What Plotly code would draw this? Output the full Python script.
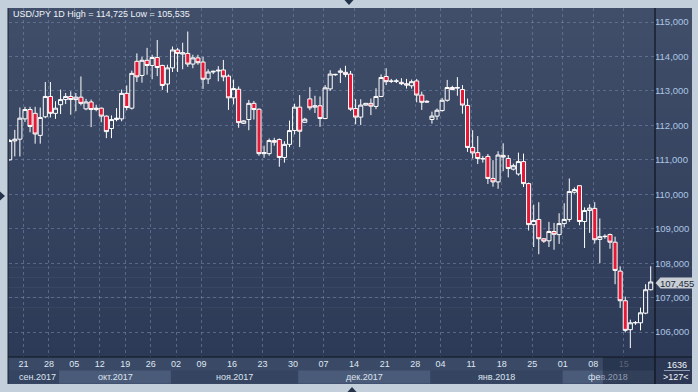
import plotly.graph_objects as go

# ---------------- data ----------------
opens = [111.00, 111.55, 111.60, 112.19, 112.46, 112.35, 111.71, 112.25, 112.84, 112.35,
         112.60, 112.75, 112.84, 112.75, 112.82, 112.48, 112.68, 112.46, 112.50, 112.27,
         111.91, 112.17, 112.19, 112.93, 112.50, 113.86, 113.45, 113.89, 113.74, 113.97,
         113.74, 113.20, 113.67, 114.19, 114.07, 114.09, 113.78, 113.96, 113.84, 113.35,
         113.55, 113.58, 113.61,
         113.43, 112.80, 113.05, 112.06, 112.17, 112.64, 112.47, 111.18, 111.18, 111.56,
         111.59, 111.07, 111.45, 111.85, 112.53, 112.09, 112.77, 112.53, 112.57, 112.20,
         113.06, 113.47, 113.54, 113.54, 113.49, 112.49, 112.24, 112.59, 112.64, 112.55,
         112.84, 113.42, 113.28, 113.28, 113.25, 113.21, 113.15, 113.29, 112.88, 112.70,
         112.17, 112.27, 112.43,
         112.73, 113.10, 113.08, 113.04, 112.58, 111.36, 111.21, 111.04, 111.10, 110.46,
         110.36, 111.13, 111.04, 110.73, 110.59, 110.95, 110.31, 109.12, 109.27, 108.71,
         108.65, 108.92, 108.83, 109.15, 109.27, 110.06, 110.25, 109.21, 109.53, 109.59,
         108.69, 108.77, 108.83, 108.61, 107.77, 106.91, 106.07, 106.27, 106.27, 106.55,
         107.23]
highs = [111.60, 111.87, 112.52, 112.54, 112.54, 112.54, 112.52, 113.26, 113.26, 112.70,
         113.04, 112.94, 112.99, 112.94, 113.42, 112.77, 112.75, 112.60, 112.52, 112.29,
         112.29, 112.50, 113.04, 113.16, 113.59, 114.09, 113.99, 114.25, 114.05, 114.48,
         113.76, 113.76, 114.29, 114.25, 114.40, 114.725, 114.05, 114.05, 113.99, 113.63,
         113.59, 113.72, 113.90,
         113.48, 113.33, 113.13, 112.15, 112.74, 112.71, 112.49, 111.41, 111.62, 111.64,
         111.62, 111.54, 112.14, 112.63, 112.88, 112.22, 113.11, 112.86, 112.84, 113.17,
         113.60, 113.50, 113.66, 113.73, 113.58, 112.76, 112.76, 112.64, 112.78, 113.08,
         113.48, 113.66, 113.35, 113.35, 113.37, 113.35, 113.33, 113.35, 112.98, 112.73,
         112.40, 112.49, 112.80,
         113.32, 113.15, 113.40, 113.17, 112.78, 111.86, 111.69, 111.11, 111.17, 110.99,
         111.25, 111.48, 111.14, 110.89, 111.21, 111.18, 110.34, 109.70, 109.77, 108.72,
         109.20, 109.17, 109.45, 109.74, 110.46, 110.20, 110.25, 109.62, 109.71, 109.77,
         109.30, 108.84, 108.86, 108.77, 107.91, 107.03, 106.36, 106.32, 106.71, 107.39,
         107.91]
lows = [110.98, 111.10, 111.10, 112.10, 111.80, 111.47, 111.47, 112.21, 112.23, 112.19,
        112.33, 112.62, 112.31, 112.41, 112.58, 112.44, 111.95, 112.41, 112.09, 111.63,
        111.63, 112.12, 112.12, 112.44, 112.46, 113.26, 113.24, 113.47, 113.34, 113.43,
        113.03, 112.95, 113.55, 113.55, 113.63, 113.70, 113.66, 113.76, 113.06, 113.20,
        113.49, 113.28, 113.28,
        112.45, 112.61, 111.93, 112.04, 111.86, 112.17, 111.12, 111.06, 111.12, 111.41,
        110.80, 110.92, 111.37, 111.74, 111.37, 112.07, 112.44, 112.36, 111.96, 112.18,
        113.00, 113.44, 113.23, 113.40, 112.42, 112.03, 112.01, 112.57, 112.30, 112.47,
        112.82, 113.17, 113.23, 113.23, 113.17, 113.07, 113.07, 112.67, 112.45, 112.66,
        112.05, 112.16, 112.40,
        112.69, 113.02, 112.86, 112.34, 111.23, 111.04, 110.88, 110.92, 110.30, 110.22,
        110.16, 110.67, 110.49, 110.69, 110.54, 110.21, 108.95, 108.47, 108.26, 108.59,
        108.47, 108.39, 108.56, 109.04, 109.20, 110.02, 109.10, 108.44, 108.88, 108.57,
        108.00, 108.71, 108.42, 107.39, 106.70, 105.99, 105.535, 106.21, 106.05, 106.52,
        107.21]
closes = [111.56, 111.60, 112.21, 112.46, 111.97, 111.75, 112.23, 112.84, 112.35, 112.50,
          112.75, 112.84, 112.75, 112.82, 112.64, 112.68, 112.46, 112.50, 112.27, 111.82,
          112.17, 112.21, 112.93, 112.52, 113.51, 113.41, 113.89, 113.74, 113.97, 113.68,
          113.16, 113.67, 114.19, 114.09, 114.11, 113.78, 113.96, 113.82, 113.34, 113.55,
          113.57, 113.60, 113.41,
          112.80, 113.07, 112.08, 112.13, 112.64, 112.46, 111.18, 111.21, 111.56, 111.51,
          111.07, 111.45, 111.85, 112.53, 111.83, 112.18, 112.51, 112.57, 112.20, 113.09,
          113.49, 113.48, 113.58, 113.48, 112.47, 112.24, 112.59, 112.64, 112.56, 112.84,
          113.39, 113.27, 113.285, 113.29, 113.21, 113.17, 113.27, 112.88, 112.67, 112.68,
          112.27, 112.44, 112.73,
          113.10, 113.04, 113.10, 112.59, 111.36, 111.20, 111.04, 111.03, 110.46, 110.36,
          111.14, 111.08, 110.75, 110.83, 110.95, 110.31, 109.12, 109.24, 108.71, 108.64,
          108.92, 108.84, 109.15, 109.27, 110.08, 110.14, 109.21, 109.53, 109.60, 108.68,
          108.77, 108.78, 108.61, 107.79, 106.91, 106.05, 106.27, 106.275, 106.56, 107.23,
          107.455]
bar_index = list(range(len(opens)))

price_ticks = [106, 107, 108, 109, 110, 111, 112, 113, 114, 115]
price_tick_labels = ["106,000", "107,000", "108,000", "109,000", "110,000",
                     "111,000", "112,000", "113,000", "114,000", "115,000"]

day_tick_bars = [3, 8, 13, 18, 23, 28, 33, 38, 44, 50, 56, 62, 68, 74, 80, 85,
                 91, 97, 103, 109, 115, 121]
day_tick_labels = ["21", "28", "05", "12", "19", "26", "02", "09", "16", "23", "30",
                   "07", "14", "21", "28", "04", "11", "18", "25", "01", "08", "15"]

month_labels = ["сен.2017", "окт.2017", "ноя.2017", "дек.2017", "янв.2018", "фев.2018"]
month_first_bar = [0, 10, 32, 57, 83, 109]

title_text = "USD/JPY 1D High = 114,725 Low = 105,535"
last_price_label = "107,455"
count_labels = ["1636", ">127<"]

# ---------------- geometry helpers (pixel -> paper) ----------------
W, H = 698, 392
PL, PR, PT, PB = 9, 654, 8, 357
XR = [-0.14, 126.65]
YR = [105.277, 115.408]


def px(x):
    return (x - PL) / (PR - PL)


def py(y):
    return (PB - y) / (PB - PT)


def bx(b):  # bar coordinate -> paper x
    return (b - XR[0]) / (XR[1] - XR[0])


shapes = []

# gradient background (plot + y axis area)
top_c = (64, 78, 106)
bot_c = (45, 58, 87)
N = 35
for i in range(N):
    y0 = PT + (PB - PT) * i / N
    y1 = PT + (PB - PT) * (i + 1) / N + 0.6
    t = (i + 0.5) / N
    col = tuple(int(round(top_c[k] + (bot_c[k] - top_c[k]) * t)) for k in range(3))
    shapes.append(dict(type="rect", xref="paper", yref="paper", layer="below",
                       x0=px(8), x1=px(692), y0=py(y0), y1=py(y1),
                       line=dict(width=0), fillcolor="rgb(%d,%d,%d)" % col))

# x axis strip
shapes.append(dict(type="rect", xref="paper", yref="paper", layer="below",
                   x0=px(8), x1=px(692), y0=py(357), y1=py(384),
                   line=dict(width=0), fillcolor="#3a4966"))
# month boxes
month_bounds = [b - 0.3 for b in month_first_bar] + [XR[1]]
month_fill = ["#354461", "#4a5a79"]
for i in range(len(month_labels)):
    x0 = px(8) if i == 0 else bx(month_bounds[i])
    x1 = bx(month_bounds[i + 1])
    shapes.append(dict(type="rect", xref="paper", yref="paper", layer="below",
                       x0=x0, x1=x1, y0=py(370.5), y1=py(383.5),
                       line=dict(width=0), fillcolor=month_fill[i % 2]))
# bottom-right counter box
shapes.append(dict(type="rect", xref="paper", yref="paper", layer="below",
                   x0=px(655), x1=px(692), y0=py(357), y1=py(384),
                   line=dict(width=0), fillcolor="#2c3853"))
shapes.append(dict(type="line", xref="paper", yref="paper", layer="above",
                   x0=px(664), x1=px(690), y0=py(370.5), y1=py(370.5),
                   line=dict(width=1, color="#8d9ab0")))
# current-week highlight on axis strip
shapes.append(dict(type="rect", xref="paper", yref="paper", layer="above",
                   x0=bx(116.6), x1=px(655), y0=py(357), y1=py(384),
                   line=dict(width=0), fillcolor="rgba(22,30,50,0.45)"))
# frame lines
shapes.append(dict(type="line", xref="paper", yref="paper", layer="above",
                   x0=px(655), x1=px(655), y0=py(8), y1=py(384),
                   line=dict(width=1.2, color="#0e141e")))
shapes.append(dict(type="line", xref="paper", yref="paper", layer="above",
                   x0=px(8), x1=px(692), y0=py(357), y1=py(357),
                   line=dict(width=1.2, color="#0e141e")))
shapes.append(dict(type="line", xref="paper", yref="paper", layer="above",
                   x0=px(8), x1=px(8), y0=py(8), y1=py(384),
                   line=dict(width=1, color="#1a2230")))


def path(points):
    s = "M %f,%f" % (px(points[0][0]), py(points[0][1]))
    for p in points[1:]:
        s += " L %f,%f" % (px(p[0]), py(p[1]))
    return s + " Z"


# last price tag
shapes.append(dict(type="path", xref="paper", yref="paper", layer="above",
                   path=path([(655.5, 283), (660.5, 277.5), (693, 277.5), (693, 288.5), (660.5, 288.5)]),
                   line=dict(width=0), fillcolor="#c9ced5"))
# frame triangles
for pts in ([(344.5, 0), (353.5, 0), (349, 5)],
            [(0, 191.5), (0, 200.5), (5, 196)],
            [(347.5, 392), (356.5, 392), (352, 387)]):
    shapes.append(dict(type="path", xref="paper", yref="paper", layer="above",
                       path=path(pts), line=dict(width=0), fillcolor="#25334a"))

annotations = []
annotations.append(dict(xref="paper", yref="paper", x=px(11), y=py(14.5), xanchor="left",
                        yanchor="middle", showarrow=False, text=title_text,
                        font=dict(size=9, color="#eef2f8")))
for i, lab in enumerate(month_labels):
    x0 = px(8) if i == 0 else bx(month_bounds[i])
    x1 = bx(month_bounds[i + 1])
    xc = (x0 + x1) / 2 + (px(4) - px(0) if i == 0 else 0)
    txt = lab
    if i == len(month_labels) - 1:
        txt = 'фе<span style="color:#8f9bb0">в.2018</span>'
    annotations.append(dict(xref="paper", yref="paper", x=xc, y=py(377), xanchor="center",
                            yanchor="middle", showarrow=False, text=txt,
                            font=dict(size=9, color="#dde5ef")))
annotations.append(dict(xref="paper", yref="paper", x=px(676.5), y=py(283), xanchor="center",
                        yanchor="middle", showarrow=False, text=last_price_label,
                        font=dict(size=9.5, color="#1c2a40")))
annotations.append(dict(xref="paper", yref="paper", x=px(677), y=py(364.5), xanchor="center",
                        yanchor="middle", showarrow=False, text=count_labels[0],
                        font=dict(size=9, color="#f2f5fa")))
annotations.append(dict(xref="paper", yref="paper", x=px(676), y=py(377), xanchor="center",
                        yanchor="middle", showarrow=False, text=count_labels[1],
                        font=dict(size=9, color="#f2f5fa")))

day_text = list(day_tick_labels)
day_text[-1] = '<span style="color:#8f9bb0">%s</span>' % day_tick_labels[-1]

fig = go.Figure(go.Candlestick(
    x=bar_index, open=opens, high=highs, low=lows, close=closes,
    increasing=dict(line=dict(color="#ffffff", width=1), fillcolor="rgba(0,0,0,0)"),
    decreasing=dict(line=dict(color="#ffffff", width=1), fillcolor="#e31937"),
    whiskerwidth=0, hoverinfo="skip", showlegend=False))

fig.update_layout(
    width=W, height=H,
    margin=dict(l=PL, r=W - PR, t=PT, b=H - PB, pad=0),
    paper_bgcolor="#c3cfdb", plot_bgcolor="rgba(0,0,0,0)",
    font=dict(family="Liberation Sans, Arial, sans-serif"),
    boxgap=0.2, boxgroupgap=0,
    showlegend=False,
    shapes=shapes, annotations=annotations,
    xaxis=dict(range=XR, rangeslider=dict(visible=False), showgrid=True,
               gridcolor="rgba(125,145,178,0.5)", griddash="dot", gridwidth=1,
               tickvals=[b - 0.3 for b in day_tick_bars], ticktext=day_text,
               tickfont=dict(size=9, color="#dfe7f1"), ticks="", zeroline=False,
               showline=False, fixedrange=True),
    yaxis=dict(range=YR, side="right", showgrid=True,
               gridcolor="rgba(125,145,178,0.5)", griddash="dot", gridwidth=1,
               tickvals=price_ticks, ticktext=price_tick_labels,
               tickfont=dict(size=9.5, color="#abc5e3"), ticks="", zeroline=False,
               showline=False, fixedrange=True),
)

fig.write_html("out.html", config={"displayModeBar": False},
               post_script="document.body.style.margin='0';document.body.style.overflow='hidden';")
